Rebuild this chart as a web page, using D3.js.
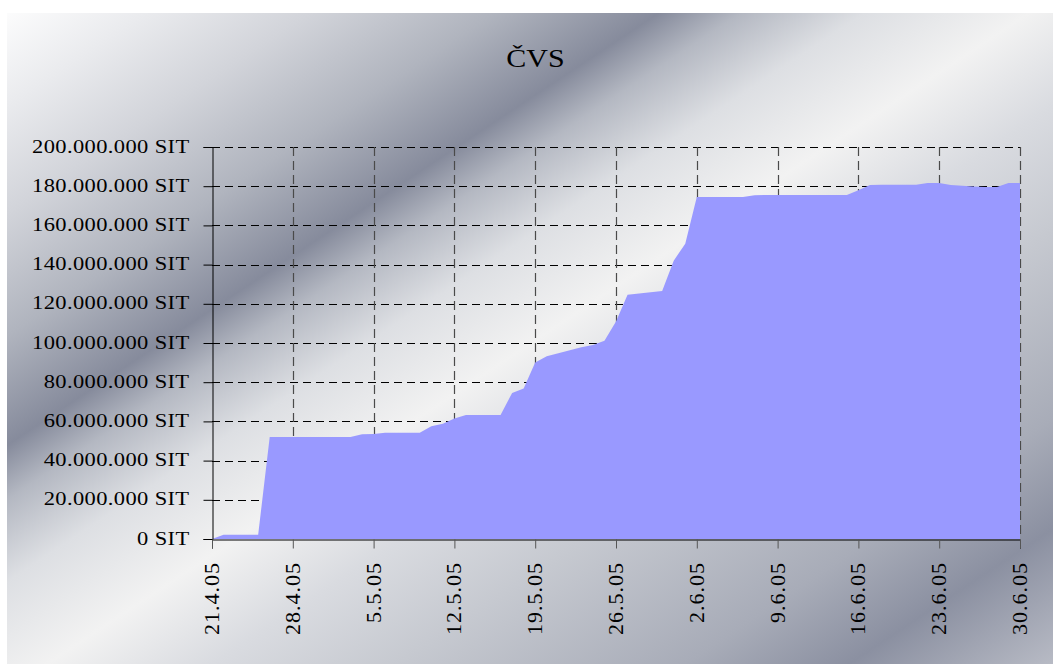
<!DOCTYPE html>
<meta charset="utf-8">
<style>
body { margin: 0; background: #fff; }
svg { display: block; }
text { font-family: "Liberation Serif", serif; fill: #000; }
</style>
<svg width="1053" height="664"></svg>
<script src="https://cdn.jsdelivr.net/npm/d3@7"></script>
<script>

// daily values, 21.4.2005 .. 30.6.2005 (millions SIT)
var startDate = "21.4.05";
var values = [
  0, 2.2, 2.2, 2.2, 2.2, 52.0, 52.0, 52.0, 52.0, 52.0,
  52.0, 52.0, 52.0, 53.4, 53.6, 54.2, 54.2, 54.2, 54.2, 57.5,
  58.8, 61.5, 63.3, 63.3, 63.3, 63.3, 74.5, 76.8, 90.1, 93.2,
  94.8, 96.3, 97.8, 99.0, 101.2, 111.0, 124.6, 125.2, 125.9, 126.5,
  142.0, 150.7, 174.5, 174.5, 174.5, 174.5, 174.5, 175.4, 175.5, 175.5,
  175.5, 175.5, 175.5, 175.5, 175.5, 175.5, 177.9, 180.6, 180.7, 180.7,
  180.7, 180.7, 181.6, 181.6, 180.6, 180.2, 179.8, 179.6, 179.6, 181.6,
  181.6
];
var xTickLabels = ["21.4.05", "28.4.05", "5.5.05", "12.5.05", "19.5.05", "26.5.05",
                   "2.6.05", "9.6.05", "16.6.05", "23.6.05", "30.6.05"];
var yTicks = [0, 20e6, 40e6, 60e6, 80e6, 100e6, 120e6, 140e6, 160e6, 180e6, 200e6];
var title = "ČVS";

var plotL = 212, plotR = 1020, plotT = 147, plotB = 539;

var parse = d3.timeParse("%d.%m.%y"),
    fmtDate = d3.timeFormat("%-d.%-m.%y");
var t0 = parse(startDate);
var data = values.map(function(v, i) {
  return {date: d3.timeDay.offset(t0, i), value: v * 1e6};
});
var xTicks = xTickLabels.map(parse);

var locale = d3.formatLocale({decimal: ",", thousands: ".", grouping: [3], currency: ["", " SIT"]});
var fmtY = locale.format("$,.0f");

var x = d3.scaleTime().domain([xTicks[0], xTicks[xTicks.length - 1]]).range([plotL, plotR]);
var y = d3.scaleLinear().domain([0, 200e6]).range([plotB, plotT]);

var svg = d3.select("svg");

// background gradient
var grad = svg.append("defs").append("linearGradient")
    .attr("id", "bg")
    .attr("gradientUnits", "userSpaceOnUse")
    .attr("x1", 0).attr("y1", 0).attr("x2", 628).attr("y2", 947);
[[0, "#ffffff"], [0.08, "#eaebee"], [0.16, "#d2d4da"], [0.25, "#b0b4be"],
 [0.33, "#868b9c"], [0.37, "#b4b8c2"], [0.43, "#dddfe3"], [0.51, "#f2f2f2"],
 [0.59, "#d9dbe0"], [0.68, "#c6c9d0"], [0.82, "#a8acb8"], [0.90, "#8b90a1"],
 [1, "#b8bbc5"]].forEach(function(s) {
  grad.append("stop").attr("offset", s[0]).attr("stop-color", s[1]);
});

svg.append("rect")
    .attr("x", 7).attr("y", 13)
    .attr("width", 1046).attr("height", 651)
    .attr("fill", "url(#bg)");

// title
svg.append("g")
    .attr("transform", "translate(535.5,67) scale(1.2,1)")
  .append("text")
    .attr("text-anchor", "middle")
    .style("font-size", "25px")
    .text(title);

// gridlines
svg.append("g").selectAll("line")
    .data(yTicks.slice(1))
  .enter().append("line")
    .attr("x1", plotL).attr("x2", plotR)
    .attr("y1", function(d) { return Math.round(y(d)) + 0.5; })
    .attr("y2", function(d) { return Math.round(y(d)) + 0.5; })
    .attr("stroke", "#000")
    .attr("stroke-dasharray", "8,5");

svg.append("g").selectAll("line")
    .data(xTicks.slice(1))
  .enter().append("line")
    .attr("x1", function(d) { return Math.round(x(d)) + 0.5; })
    .attr("x2", function(d) { return Math.round(x(d)) + 0.5; })
    .attr("y1", plotT).attr("y2", plotB)
    .attr("stroke", "#4a4a4a")
    .attr("stroke-width", 1.2)
    .attr("stroke-dasharray", "9,5");

// area
var area = d3.area()
    .x(function(d) { return x(d.date); })
    .y0(y(0))
    .y1(function(d) { return y(d.value); });

svg.append("path")
    .datum(data)
    .attr("fill", "#9999ff")
    .attr("d", area);

// y axis
var yAxis = svg.append("g")
    .attr("transform", "translate(" + (plotL + 0.5) + ",0)")
    .call(d3.axisLeft(y).tickValues(yTicks).tickSize(9).tickFormat(""));
yAxis.select(".domain").attr("stroke", "#000");
yAxis.selectAll(".tick line").attr("stroke", "#000");

yAxis.selectAll(".tick").append("g")
    .attr("transform", "translate(-23,5) scale(1.25,1)")
  .append("text")
    .attr("text-anchor", "end")
    .style("font-size", "18px")
    .style("letter-spacing", "0.3px")
    .text(function(d) { return fmtY(d); });

// x axis
var xAxis = svg.append("g")
    .attr("transform", "translate(0," + (plotB + 0.5) + ")")
    .call(d3.axisBottom(x).tickValues(xTicks).tickSize(9).tickFormat(""));
xAxis.select(".domain").attr("stroke", "#000");
xAxis.selectAll(".tick line").attr("stroke", "#555");

xAxis.selectAll(".tick").append("text")
    .attr("transform", "translate(6.5,22.5) rotate(-90)")
    .attr("text-anchor", "end")
    .style("font-size", "22px")
    .style("letter-spacing", "1px")
    .text(function(d) { return fmtDate(d); });

</script>
